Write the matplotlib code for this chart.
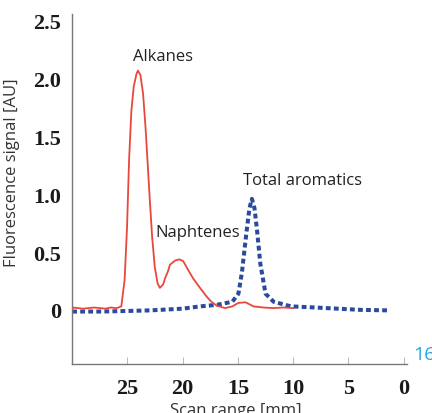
import matplotlib
matplotlib.use("Agg")
import matplotlib.pyplot as plt

# Alkanes / naphtenes signal (red solid)
red_x = [30, 29, 28, 27, 26.5, 26, 25.8, 25.55, 25.25, 25.03, 24.85, 24.64, 24.43, 24.18, 24.04,
         23.82, 23.58, 23.36, 23.18, 22.97, 22.76, 22.52, 22.27, 22.06, 21.76, 21.6, 21.3, 21.15,
         20.7, 20.3, 19.94, 19.5, 19.04, 18.43, 17.83, 17.4, 16.9, 16.15, 15.5, 14.95, 14.3,
         13.6, 12.7, 11.8, 10.9, 10.0]
red_y = [0.02, 0.01, 0.02, 0.01, 0.02, 0.015, 0.02, 0.03, 0.26, 0.72, 1.29, 1.72, 1.93, 2.04, 2.07,
         2.03, 1.87, 1.58, 1.29, 0.95, 0.63, 0.37, 0.23, 0.19, 0.22, 0.27, 0.34, 0.39,
         0.425, 0.437, 0.42, 0.345, 0.27, 0.19, 0.115, 0.07, 0.035, 0.015, 0.03, 0.06, 0.065,
         0.03, 0.02, 0.015, 0.02, 0.015]

# Total aromatics signal (blue dotted)
blue_x = [30, 27.5, 25, 23, 20, 18.4, 16.9, 15.5, 14.95, 14.64, 14.2, 13.95, 13.73, 13.5,
          13.27, 12.97, 12.5, 11.77, 10.2, 8, 6, 4, 1.4]
blue_y = [-0.015, -0.015, -0.01, -0.005, 0.01, 0.03, 0.043, 0.07, 0.14, 0.32, 0.69, 0.88, 0.96, 0.88,
          0.69, 0.40, 0.14, 0.07, 0.03, 0.02, 0.01, 0.0, -0.005]

x_ticks = [25, 20, 15, 10, 5, 0]
y_ticks = [0, 0.5, 1.0, 1.5, 2.0, 2.5]
y_tick_labels = ["0", "0.5", "1.0", "1.5", "2.0", "2.5"]

labels = ["Alkanes", "Naphtenes", "Total aromatics"]
label_x = [21.8, 22.5, 14.5]
label_y = [2.2, 0.67, 1.12]
label_ha = ["center", "left", "left"]

fig = plt.figure(figsize=(4.32, 4.14), dpi=100)
ax = fig.add_axes([0.167, 0.118, 0.775, 0.846])

ax.plot(red_x, red_y, color="#e8473c", lw=1.3, zorder=3)
ax.plot(blue_x, blue_y, color="#2b4a9b", lw=2.9, linestyle=(0, (1.2, 0.8)),
        dash_capstyle="butt", zorder=2)

ax.set_xlim(30, -0.3)
ax.set_ylim(-0.47, 2.56)

for s in ["top", "right"]:
    ax.spines[s].set_visible(False)
for s in ["left", "bottom"]:
    ax.spines[s].set_color("#777777")
    ax.spines[s].set_linewidth(1.0)

ax.set_xticks(x_ticks)
ax.set_xticklabels([str(t) for t in x_ticks])
ax.set_yticks(y_ticks)
ax.set_yticklabels(y_tick_labels)
for lab in ax.get_xticklabels() + ax.get_yticklabels():
    lab.set_fontfamily("Liberation Serif")
    lab.set_fontweight("bold")
    lab.set_fontsize(16)
    lab.set_color("#1a1a1a")
ax.tick_params(axis="x", direction="in", length=5, color="#bbbbbb", pad=10)
ax.tick_params(axis="y", length=0, pad=8)

ax.set_ylabel("Fluorescence signal [AU]", fontfamily="Open Sans", fontsize=12, color="#333333")
ax.yaxis.set_label_coords(-0.155, 0.55)
ax.set_xlabel("Scan range [mm]", fontfamily="Open Sans", fontsize=12, color="#333333")
ax.xaxis.set_label_coords(0.49, -0.108)

for t, x, y, ha in zip(labels, label_x, label_y, label_ha):
    ax.text(x, y, t, ha=ha, va="center", fontfamily="Open Sans", fontsize=12,
            color="#222222", zorder=4,
            bbox=dict(facecolor="white", edgecolor="none", pad=1.0))

fig.text(0.957, 0.143, "16", fontfamily="Open Sans", fontsize=14, color="#2aa6df",
         ha="left", va="center")

fig.savefig("out.png", dpi=100)
